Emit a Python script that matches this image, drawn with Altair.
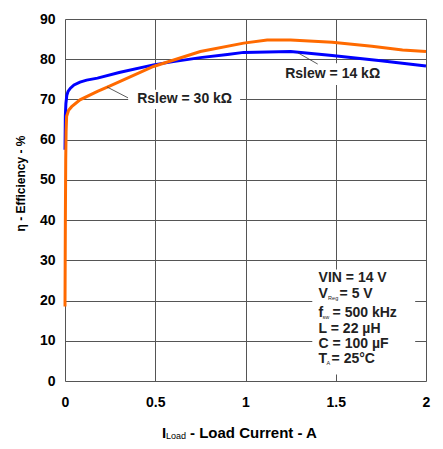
import pandas as pd
import altair as alt

# Rslew = 14 kOhm (blue)
x14 = [0, 0.002, 0.005, 0.01, 0.017, 0.03, 0.05, 0.083, 0.12, 0.18, 0.3, 0.49, 0.6, 0.75, 0.9, 0.99, 1.25, 1.48, 1.75, 2.0]
y14 = [57.5, 66, 69, 71, 72, 72.8, 73.6, 74.3, 74.8, 75.3, 76.7, 78.6, 79.4, 80.4, 81.2, 81.7, 81.9, 80.9, 79.6, 78.3]

# Rslew = 30 kOhm (orange)
x30 = [0, 0.002, 0.004, 0.006, 0.009, 0.02, 0.037, 0.083, 0.18, 0.25, 0.49, 0.75, 0.99, 1.12, 1.25, 1.48, 1.7, 1.87, 2.0]
y30 = [18.5, 40, 55, 62, 65.8, 67.3, 68.2, 69.9, 72, 73.4, 78.2, 81.9, 84, 84.8, 84.8, 84.2, 83.2, 82.3, 81.9]

x_ticks = [0, 0.5, 1, 1.5, 2]
y_ticks = list(range(0, 91, 10))

FONT = "Liberation Sans"
W, H = 361, 362

d14 = pd.DataFrame({"I": x14, "eff": y14})
d30 = pd.DataFrame({"I": x30, "eff": y30})

xs = alt.Scale(domain=[0, 2], nice=False)
ys = alt.Scale(domain=[0, 90], nice=False)

xax = alt.Axis(values=x_ticks, format="~g", grid=True, gridColor="#555", gridWidth=1,
               domain=False, ticks=False, labelFont=FONT, labelFontSize=14, labelFontWeight="bold",
               labelColor="black", labelPadding=14, labelFlush=False, title=None)
yax = alt.Axis(values=y_ticks, grid=True, gridColor="#555", gridWidth=1,
               domain=False, ticks=False, labelFont=FONT, labelFontSize=14, labelFontWeight="bold",
               labelColor="black", labelPadding=10, title="η - Efficiency - %",
               titleFont=FONT, titleFontSize=12, titleFontWeight="bold", titleColor="black",
               titlePadding=12, titleY=164)

blue = alt.Chart(d14).mark_line(color="#0000ff", strokeWidth=3).encode(
    x=alt.X("I:Q", scale=xs, axis=xax),
    y=alt.Y("eff:Q", scale=ys, axis=yax),
)
orange = alt.Chart(d30).mark_line(color="#ff6a00", strokeWidth=3).encode(
    x=alt.X("I:Q", scale=xs), y=alt.Y("eff:Q", scale=ys))

# white boxes behind the annotation text (they break the grid lines)
boxes = pd.DataFrame({"x": [0.35, 1.19, 1.37], "x2": [0.97, 1.76, 1.94],
                      "y": [67.6, 73.6, 1.6], "y2": [72.4, 79.0, 27.7]})
box = alt.Chart(boxes).mark_rect(color="white").encode(
    x=alt.X("x:Q", scale=xs), x2="x2", y=alt.Y("y:Q", scale=ys), y2="y2")

# leader lines
leaders = pd.DataFrame({"x": [0.233, 1.29], "x2": [0.349, 1.40], "y": [73.1, 81.6], "y2": [70.4, 78.8]})
lead = alt.Chart(leaders).mark_rule(color="#333", strokeWidth=0.8).encode(
    x=alt.X("x:Q", scale=xs), x2="x2", y=alt.Y("y:Q", scale=ys), y2="y2")

labels = pd.DataFrame({"x": [0.40, 1.22], "y": [70.1, 76.3], "t": ["Rslew = 30 kΩ", "Rslew = 14 kΩ"]})
lab = alt.Chart(labels).mark_text(font=FONT, fontSize=14, fontWeight="bold", align="left",
                                  baseline="middle", color="#222").encode(
    x=alt.X("x:Q", scale=xs), y=alt.Y("y:Q", scale=ys), text="t")

# parameter block: main text, subscript, rest
p_main = ["VIN = 14 V", "V", "f", "L = 22 µH", "C = 100 µF", "T"]
p_sub = ["", "Reg", "sw", "", "", "A"]
p_rest = ["", "= 5 V", "= 500 kHz", "", "", "= 25°C"]
p_sub_dx = [0, 9.5, 4, 0, 0, 8]
p_rest_dx = [0, 21, 14, 0, 0, 13]
p_y = [25.7, 21.6, 16.9, 12.9, 9.3, 5.4]

params = pd.DataFrame({"main": p_main, "y": p_y})
px0 = 1.405
ptxt = alt.Chart(params).mark_text(font=FONT, fontSize=14, fontWeight="bold", align="left",
                                   baseline="middle", color="#222").encode(
    x=alt.datum(px0, scale=xs), y=alt.Y("y:Q", scale=ys), text="main")

rest_layers = []
for i in range(len(p_main)):
    if p_rest[i]:
        row = pd.DataFrame({"sub": [p_sub[i]], "rest": [p_rest[i]], "y": [p_y[i]]})
        rest_layers.append(
            alt.Chart(row).mark_text(font=FONT, fontSize=14, fontWeight="bold", align="left",
                                     baseline="middle", color="#222", dx=p_rest_dx[i]).encode(
                x=alt.datum(px0, scale=xs), y=alt.Y("y:Q", scale=ys), text="rest"))
        rest_layers.append(
            alt.Chart(row).mark_text(font=FONT, fontSize=5.5, align="left",
                                     baseline="middle", color="#222", dx=p_sub_dx[i], dy=3.5).encode(
                x=alt.datum(px0, scale=xs), y=alt.Y("y:Q", scale=ys), text="sub"))

# x axis title with subscript
xt_main = pd.DataFrame({"t": ["I", "- Load Current - A"], "px": [97, 125]})
xt_sub = pd.DataFrame({"t": ["Load"], "px": [101]})
xtitle = alt.Chart(xt_main).mark_text(font=FONT, fontSize=15, fontWeight="bold", align="left",
                                      baseline="middle", color="black").encode(
    x=alt.X("px:Q", scale=None), y=alt.value(H + 52), text="t")
xtitle_sub = alt.Chart(xt_sub).mark_text(font=FONT, fontSize=9, align="left",
                                         baseline="middle", color="black").encode(
    x=alt.X("px:Q", scale=None), y=alt.value(H + 55), text="t")

chart = alt.layer(blue, box, orange, lead, lab, ptxt, *rest_layers, xtitle, xtitle_sub).properties(
    width=W, height=H,
    autosize=alt.AutoSizeParams(type="none"),
    padding={"left": 57, "top": 11, "right": 9, "bottom": 60},
).configure_view(stroke="#222", strokeWidth=1.5).configure(background="white")

chart.save("out.html", embed_options={"renderer": "svg", "actions": False})
